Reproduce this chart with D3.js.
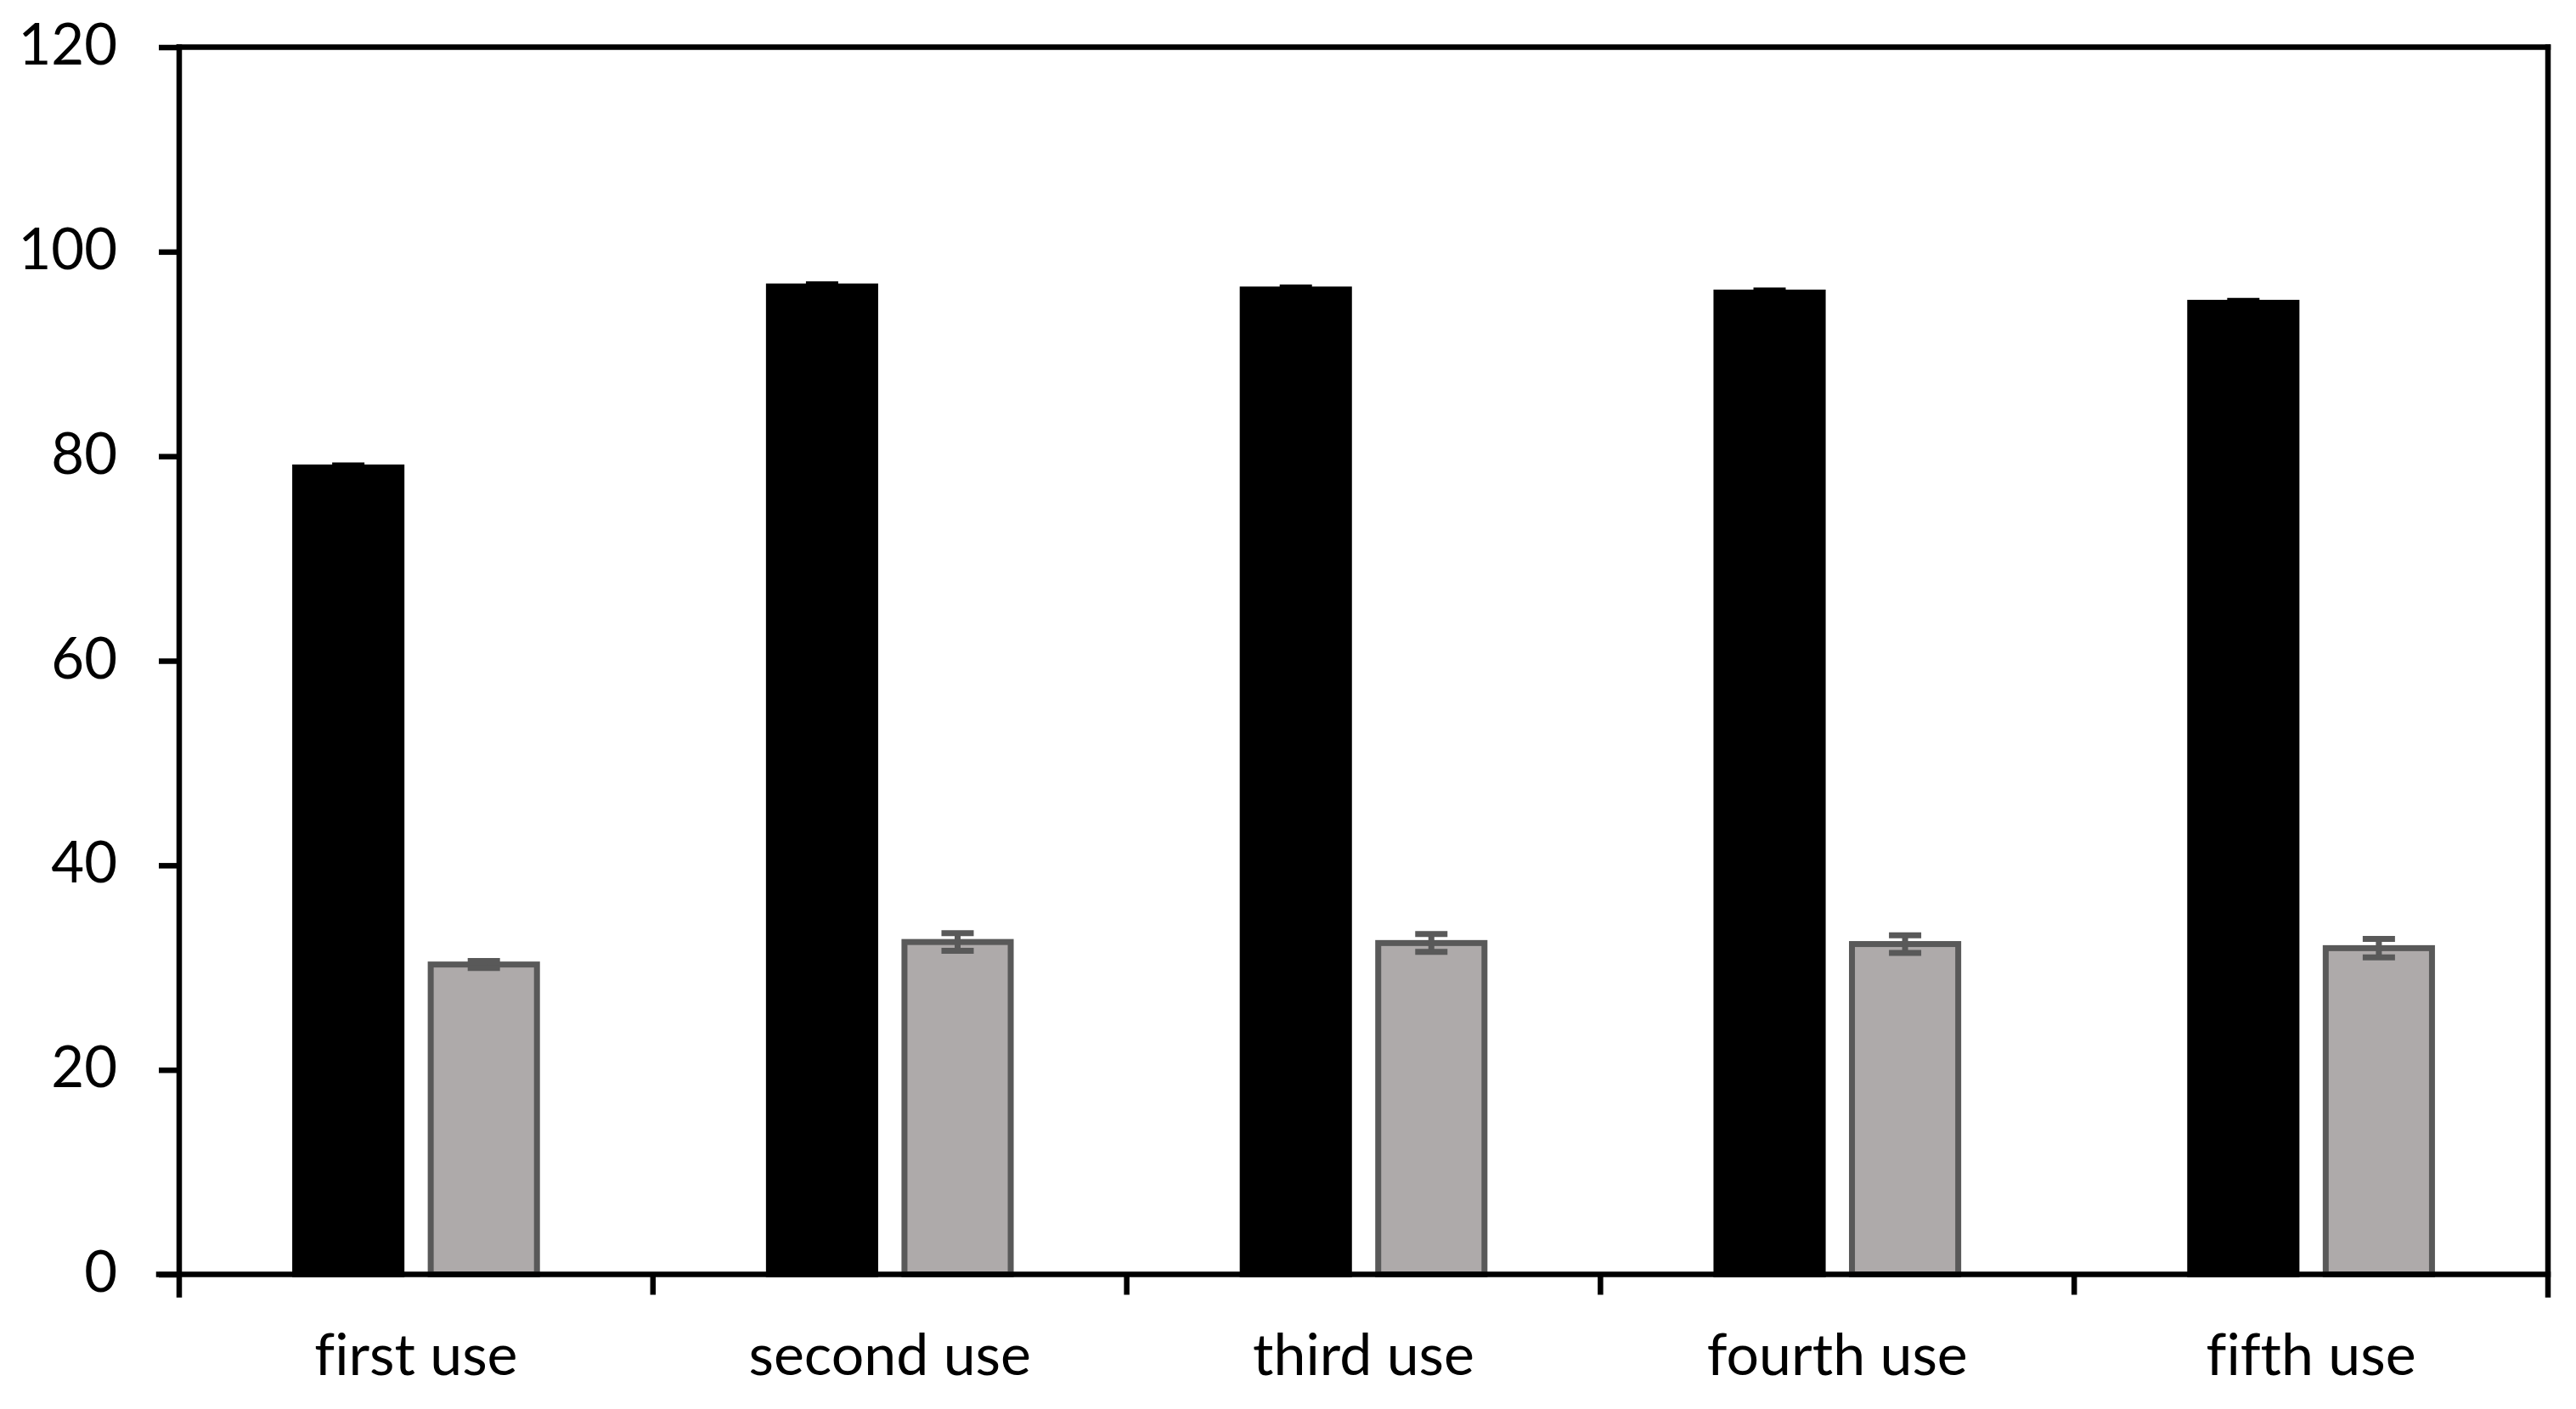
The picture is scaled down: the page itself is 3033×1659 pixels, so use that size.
<!DOCTYPE html>
<html>
<head>
<meta charset="utf-8">
<script src="https://cdn.jsdelivr.net/npm/d3@7"></script>
<style>
  body { margin: 0; background: #fff; }
  svg { display: block; }
  text { font-variant-ligatures: none; font-feature-settings: "liga" 0; }
</style>
</head>
<body>
<script>
// data
const categories = ["first use", "second use", "third use", "fourth use", "fifth use"];
const seriesNames = ["black", "grey"];
const blackValues = [78.9, 96.6, 96.3, 96.0, 95.0];
const blackErrors = [0.2, 0.2, 0.2, 0.2, 0.2];
const greyValues = [30.3, 32.5, 32.4, 32.3, 31.9];
const greyErrors = [0.35, 0.87, 0.87, 0.86, 0.9];
const yTicks = [0, 20, 40, 60, 80, 100, 120];

const w = 3033;
const h = 1659;
const plotLeft = 211, plotRight = 3000, plotTop = 55.5, plotBottom = 1500.5;
const lw = 6.5;
const font = "Lato, 'Open Sans', sans-serif";

const svg = d3.select("body")
  .append("svg")
  .attr("width", w)
  .attr("height", h);

const x0 = d3.scaleBand()
  .domain(categories)
  .range([plotLeft, plotRight]);

const x1 = d3.scaleBand()
  .domain(seriesNames)
  .range([0, x0.bandwidth()])
  .paddingInner(0.172)
  .paddingOuter(0.834);

const y = d3.scaleLinear()
  .domain([0, 120])
  .range([plotBottom, plotTop]);

const rows = categories.map((c, i) => [
  { cat: c, s: "black", v: blackValues[i], e: blackErrors[i], fill: "#000000", stroke: "#000000" },
  { cat: c, s: "grey", v: greyValues[i], e: greyErrors[i], fill: "#AEAAAA", stroke: "#595959" }
]).flat();

const bw = 7; // bar outline width

// bars
svg.append("g").selectAll("rect")
  .data(rows)
  .enter()
  .append("rect")
  .attr("x", (d) => x0(d.cat) + x1(d.s) + bw / 2)
  .attr("y", (d) => y(d.v))
  .attr("width", x1.bandwidth() - bw)
  .attr("height", (d) => y(0) - y(d.v))
  .attr("fill", (d) => d.fill)
  .attr("stroke", (d) => d.stroke)
  .attr("stroke-width", bw);

// error bars
const capW = 38;
const cx = (d) => x0(d.cat) + x1(d.s) + x1.bandwidth() / 2;
const eb = svg.append("g").selectAll("g")
  .data(rows)
  .enter()
  .append("g")
  .attr("stroke", (d) => d.stroke)
  .attr("stroke-width", 7);

eb.append("line")
  .attr("x1", cx)
  .attr("x2", cx)
  .attr("y1", (d) => y(d.v + d.e))
  .attr("y2", (d) => y(d.v - d.e));

eb.selectAll(".cap")
  .data((d) => [d.v + d.e, d.v - d.e].map((v) => ({ v: v, d: d })))
  .enter()
  .append("line")
  .attr("class", "cap")
  .attr("x1", (c) => cx(c.d) - capW / 2)
  .attr("x2", (c) => cx(c.d) + capW / 2)
  .attr("y1", (c) => y(c.v))
  .attr("y2", (c) => y(c.v));

// y axis
const yAxis = d3.axisLeft(y)
  .tickValues(yTicks)
  .tickSize(24)
  .tickPadding(49)
  .tickFormat(d3.format("d"));

const gy = svg.append("g")
  .attr("transform", "translate(" + plotLeft + ",0)")
  .call(yAxis);

gy.select(".domain").remove();
gy.selectAll(".tick line").attr("stroke", "#000").attr("stroke-width", lw);
gy.selectAll(".tick text")
  .attr("font-family", font)
  .attr("font-size", 67)
  .attr("fill", "#000")
  .attr("dy", "0.3em");

// frame lines
const frame = svg.append("g").attr("stroke", "#000").attr("stroke-width", lw).attr("stroke-linecap", "square");
frame.append("line").attr("x1", plotLeft).attr("x2", plotLeft).attr("y1", y(120)).attr("y2", y(0) + 24);
frame.append("line").attr("x1", plotLeft).attr("x2", plotRight).attr("y1", y(120)).attr("y2", y(120));
frame.append("line").attr("x1", plotRight).attr("x2", plotRight).attr("y1", y(120)).attr("y2", y(0) + 24);
frame.append("line").attr("x1", plotLeft - 24).attr("x2", plotRight).attr("y1", y(0)).attr("y2", y(0));

// x ticks between categories
svg.append("g").selectAll("line")
  .data(categories.slice(1))
  .enter()
  .append("line")
  .attr("x1", (d) => x0(d))
  .attr("x2", (d) => x0(d))
  .attr("y1", y(0))
  .attr("y2", y(0) + 24)
  .attr("stroke", "#000")
  .attr("stroke-width", lw);

// x labels
const xAxis = d3.axisBottom(x0).tickSize(0).tickPadding(0);
const gx = svg.append("g")
  .attr("transform", "translate(0," + y(0) + ")")
  .call(xAxis);
gx.select(".domain").remove();
gx.selectAll(".tick text")
  .attr("font-family", font)
  .attr("font-size", 68)
  .attr("fill", "#000")
  .attr("y", 118)
  .attr("dy", 0);
</script>
</body>
</html>
